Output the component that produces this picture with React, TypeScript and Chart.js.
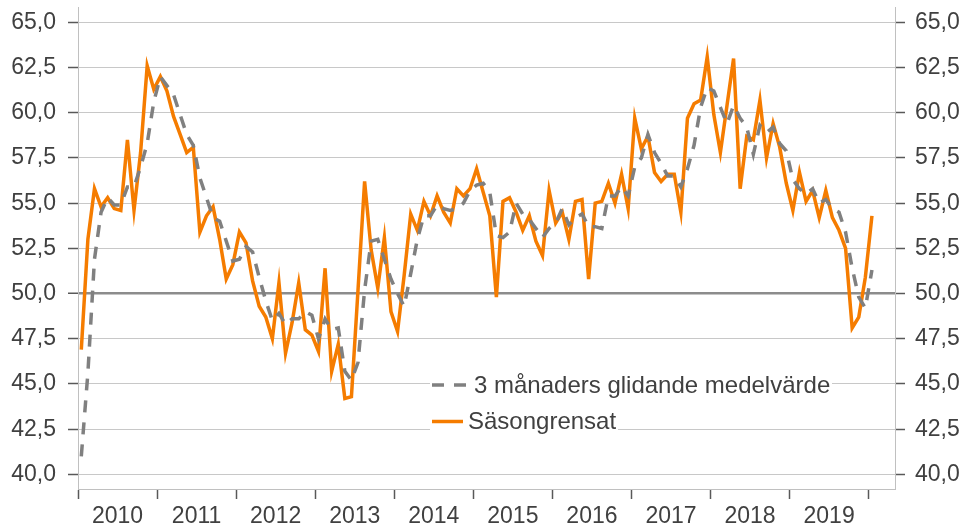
import React, { useEffect, useRef } from "react";
import { Chart, registerables } from "chart.js";

Chart.register(...registerables);

// ---- data ----
const yearLabels = ["2010", "2011", "2012", "2013", "2014", "2015", "2016", "2017", "2018", "2019"];
const monthSlots = 124; // Jan 2010 .. Apr 2020 on the category axis
const yTicks = [40, 42.5, 45, 47.5, 50, 52.5, 55, 57.5, 60, 62.5, 65];

const seriesLabels = ["3 månaders glidande medelvärde", "Säsongrensat"];

// Säsongrensat (monthly, from Jan 2010)
const seasonal = [
  46.9, 53.0, 55.8, 54.8, 55.3, 54.7, 54.6, 58.5, 54.6, 57.8, 62.6, 61.3,
  62.0, 61.2, 59.8, 58.8, 57.8, 58.1, 53.4, 54.3, 54.8, 53.0, 50.8, 51.6,
  53.4, 52.8, 50.7, 49.3, 48.7, 47.5, 50.6, 46.7, 48.4, 50.6, 48.0, 47.7,
  46.8, 51.4, 45.7, 47.2, 44.2, 44.3, 50.2, 56.2, 52.4, 50.3, 53.1, 49.0,
  47.9, 51.0, 54.4, 53.5, 55.1, 54.3, 55.4, 54.5, 53.9, 55.8, 55.4, 55.8,
  56.9, 55.6, 54.3, 49.8, 55.1, 55.3, 54.5, 53.5, 54.3, 52.9, 52.1, 55.7,
  53.9, 54.5, 53.0, 55.1, 55.2, 50.8, 55.0, 55.1, 56.1, 55.0, 56.6, 54.7,
  59.7, 58.0, 58.7, 56.7, 56.2, 56.6, 56.6, 54.5, 59.7, 60.5, 60.7, 63.1,
  59.9, 57.8, 60.4, 63.0, 55.8, 58.7, 58.5, 60.7, 57.5, 59.4, 58.1, 56.1,
  54.6, 56.7, 55.1, 55.7, 54.2, 55.7, 54.2, 53.5, 52.5, 48.1, 48.7, 50.9,
  54.3,
];

// 3 månaders glidande medelvärde (monthly, from Jan 2010)
const movingAvg = [
  41.0, 45.6, 51.9, 54.5, 55.3, 54.9, 54.9, 55.9, 55.9, 57.0, 58.3, 60.6,
  62.0, 61.5, 61.0, 59.9, 58.8, 58.2, 56.4, 55.3, 54.2, 54.0, 52.9, 51.8,
  51.9, 52.6, 52.3, 50.9, 49.6, 48.5, 48.9, 48.3, 48.6, 48.6, 49.0, 48.8,
  47.5, 48.6, 48.0, 48.1, 45.7, 45.2, 46.2, 50.2, 52.9, 53.0, 51.9, 50.8,
  50.0, 49.3, 51.1, 53.0, 54.3, 54.3, 54.9, 54.7, 54.6, 54.7, 55.0, 55.7,
  56.0, 56.1, 55.6, 53.2, 53.1, 53.4, 55.0, 54.4, 54.1, 53.6, 53.1, 53.6,
  53.9, 54.7, 53.8, 54.2, 54.4, 53.7, 53.7, 53.6, 55.4, 55.4, 55.9, 55.4,
  57.0, 57.5, 58.8, 57.8, 57.2, 56.5, 56.5, 55.9, 56.9, 58.2, 60.3, 61.4,
  61.2, 60.3, 59.4, 60.4, 59.7, 59.2, 57.7, 59.3, 58.9, 59.2, 58.3, 57.9,
  56.3, 55.8, 55.5, 55.8, 55.0, 55.2, 54.7, 54.5, 53.4, 51.4, 49.8, 49.2,
  51.3,
];

const FONT = "'Liberation Sans', Arial, Helvetica, sans-serif";
const TEXT = "#404040";
const ORANGE = "#F57C00";
const GREY = "#808080";

const toPoints = (arr: number[]) => arr.map((v, i) => ({ x: i + 0.5, y: v }));

const insideLegend = {
  id: "insideLegend",
  afterDatasetsDraw(chart: any) {
    const { ctx } = chart;
    const ds = chart.data.datasets;
    const rows = [
      { d: ds[0], y: 385, x0: 432, x1: 468, tx: 474, boxR: 832 },
      { d: ds[1], y: 421.5, x0: 432, x1: 463, tx: 468, boxR: 618 },
    ];
    ctx.save();
    ctx.font = `24px ${FONT}`;
    ctx.textBaseline = "middle";
    ctx.textAlign = "left";
    for (const r of rows) {
      ctx.fillStyle = "#ffffff";
      ctx.fillRect(430, r.y - 12, r.boxR - 430, 25);
      ctx.beginPath();
      ctx.setLineDash(r.d.borderDash || []);
      ctx.lineWidth = r.d.borderWidth;
      ctx.strokeStyle = r.d.borderColor;
      ctx.moveTo(r.x0, r.y);
      ctx.lineTo(r.x1, r.y);
      ctx.stroke();
      ctx.setLineDash([]);
      ctx.fillStyle = TEXT;
      ctx.fillText(r.d.label, r.tx, r.y + 1);
    }
    ctx.restore();
  },
};

export default function App() {
  const ref = useRef<HTMLCanvasElement | null>(null);

  useEffect(() => {
    if (!ref.current) return;
    const tickFont = { family: FONT, size: 23 };
    const fmt = (v: any) => Number(v).toFixed(1).replace(".", ",");
    const yCommon = {
      type: "linear" as const,
      min: 39.19,
      max: 65.85,
      bounds: "data" as const,
      afterBuildTicks: (s: any) => {
        s.ticks = yTicks.map((v) => ({ value: v }));
      },
    };
    const chart = new Chart(ref.current, {
      type: "line",
      data: {
        datasets: [
          {
            label: seriesLabels[0],
            data: toPoints(movingAvg),
            borderColor: GREY,
            borderWidth: 3.5,
            borderDash: [12, 10],
            pointRadius: 0,
            fill: false,
            tension: 0,
          },
          {
            label: seriesLabels[1],
            data: toPoints(seasonal),
            borderColor: ORANGE,
            borderWidth: 3.5,
            pointRadius: 0,
            fill: false,
            tension: 0,
          },
        ],
      },
      options: {
        animation: false,
        responsive: false,
        devicePixelRatio: 1,
        layout: { padding: { top: 7, left: 0, right: 0, bottom: 0 } },
        plugins: { legend: { display: false }, tooltip: { enabled: false }, title: { display: false } },
        scales: {
          x: {
            type: "linear",
            position: "bottom",
            min: 0,
            max: monthSlots,
            bounds: "data",
            afterBuildTicks: (s: any) => {
              const t = [];
              for (let v = 0; v <= yearLabels.length * 12; v += 6) t.push({ value: v });
              s.ticks = t;
            },
            afterFit: (s: any) => {
              s.height = 37;
              s.paddingLeft = 0;
              s.paddingRight = 0;
            },
            grid: {
              drawOnChartArea: false,
              drawTicks: true,
              tickLength: 10,
              tickWidth: 1.5,
              tickColor: (c: any) => (c.tick && c.tick.value % 12 === 0 ? "#595959" : "rgba(0,0,0,0)"),
            },
            border: { display: true, color: "#c0c0c0", width: 1 },
            ticks: {
              autoSkip: false,
              maxRotation: 0,
              minRotation: 0,
              padding: 4,
              color: TEXT,
              font: tickFont,
              callback: (v: any) => (Number(v) % 12 === 6 ? yearLabels[(Number(v) - 6) / 12] : ""),
            },
          },
          y: {
            ...yCommon,
            position: "left",
            afterFit: (s: any) => {
              s.width = 78;
              s.paddingTop = 0;
              s.paddingBottom = 0;
            },
            grid: {
              drawOnChartArea: true,
              drawTicks: true,
              tickLength: 10,
              tickWidth: 1.5,
              tickColor: "#595959",
              color: (c: any) => (c.tick && c.tick.value === 50 ? "#8c8c8c" : "#c8c8c8"),
              lineWidth: (c: any) => (c.tick && c.tick.value === 50 ? 2.5 : 1),
            },
            border: { display: true, color: "#c0c0c0", width: 1 },
            ticks: { padding: 12, color: TEXT, font: tickFont, callback: fmt },
          },
          y2: {
            ...yCommon,
            position: "right",
            afterFit: (s: any) => {
              s.width = 68;
              s.paddingTop = 0;
              s.paddingBottom = 0;
            },
            grid: {
              drawOnChartArea: false,
              drawTicks: true,
              tickLength: 10,
              tickWidth: 1.5,
              tickColor: "#595959",
            },
            border: { display: true, color: "#c0c0c0", width: 1 },
            ticks: { padding: 10, color: TEXT, font: tickFont, callback: fmt },
          },
        },
      },
      plugins: [insideLegend],
    });
    return () => chart.destroy();
  }, []);

  return (
    <div style={{ position: "absolute", left: 0, top: 0, width: 963, height: 526, background: "#fff" }}>
      <canvas ref={ref} width={963} height={526} style={{ display: "block", width: 963, height: 526 }} />
    </div>
  );
}
